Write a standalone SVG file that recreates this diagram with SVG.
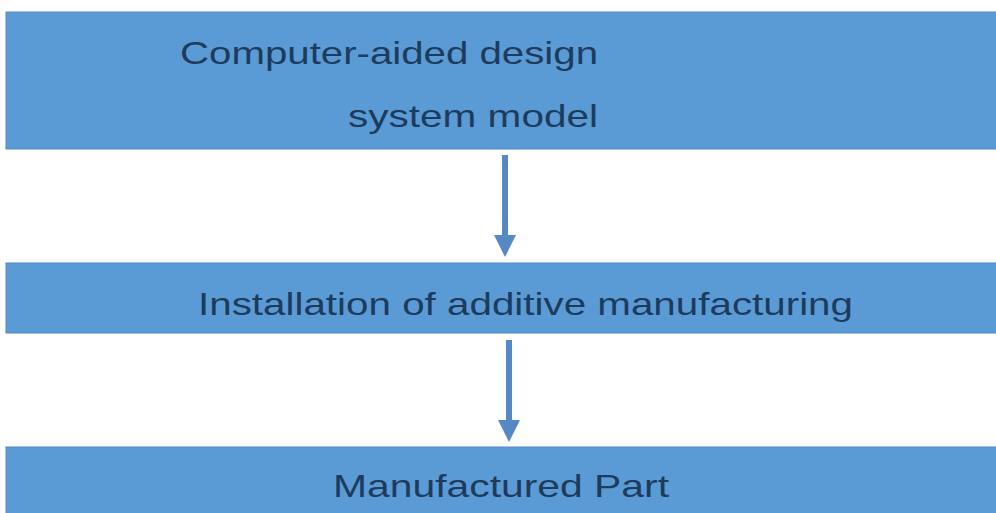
<svg xmlns="http://www.w3.org/2000/svg" width="996" height="513" viewBox="0 0 996 513">
<style>
.box{fill:#5b9bd5;stroke:#4f8cc6;stroke-width:1}
.lbl{font-family:"Liberation Sans",Arial,sans-serif;font-size:32px;fill:#1d3b5c}
.conn{stroke:#5689c4;stroke-width:6;fill:none}
.head{fill:#5689c4}
</style>
<rect width="996" height="513" fill="#ffffff"/>
<g id="node-cad">
<rect class="box" x="6" y="12" width="992" height="137"/>
<text class="lbl" x="180" y="64" textLength="418" lengthAdjust="spacingAndGlyphs">Computer-aided design</text>
<text class="lbl" x="348" y="127" textLength="250" lengthAdjust="spacingAndGlyphs">system model</text>
</g>
<g id="node-install">
<rect class="box" x="6" y="263" width="992" height="70"/>
<text class="lbl" x="198" y="315" textLength="655" lengthAdjust="spacingAndGlyphs">Installation of additive manufacturing</text>
</g>
<g id="node-part">
<rect class="box" x="6" y="447" width="992" height="70"/>
<text class="lbl" x="333" y="497" textLength="336" lengthAdjust="spacingAndGlyphs">Manufactured Part</text>
</g>
<g id="connectors">
<line class="conn" x1="505" y1="155" x2="505" y2="236"/>
<polygon class="head" points="494,235 516,235 505,257"/>
<line class="conn" x1="509" y1="340" x2="509" y2="421"/>
<polygon class="head" points="498,420 520,420 509,442"/>
</g>
</svg>
